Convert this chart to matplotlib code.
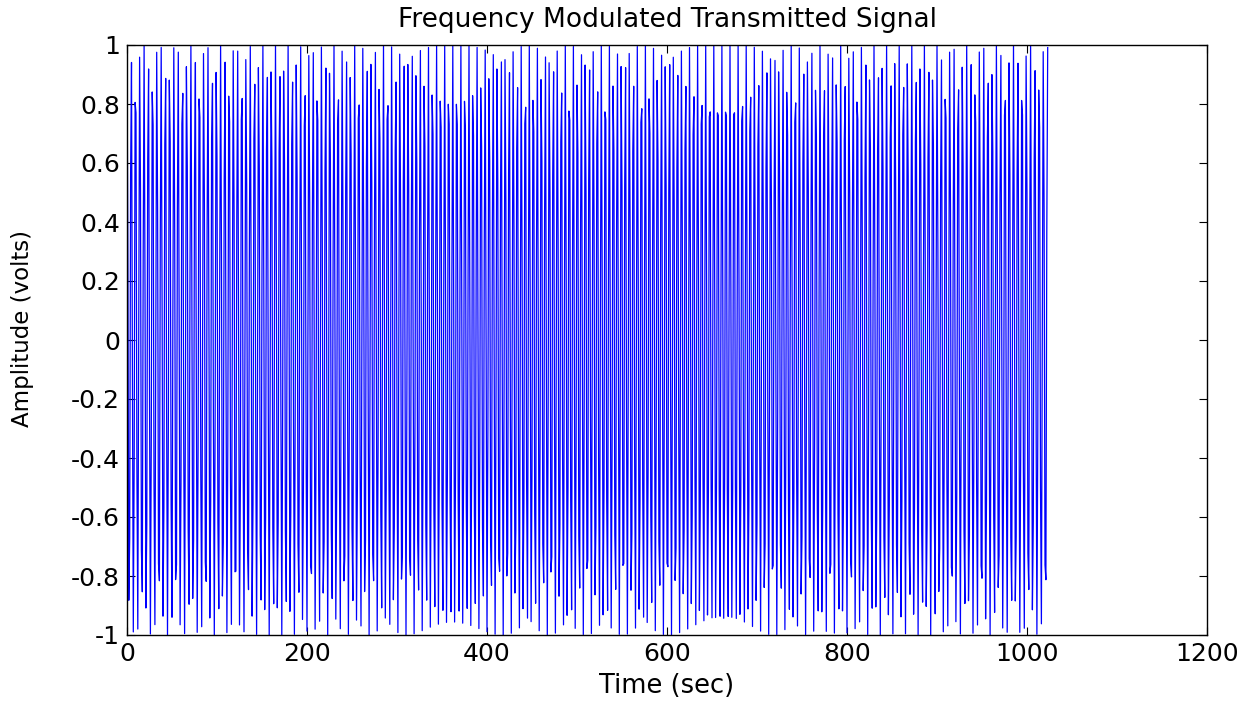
import numpy as np
import matplotlib
matplotlib.use("Agg")
import matplotlib.pyplot as plt

# Signal parameters (per-sample units)
num_samples = 1024
carrier_freq = 0.218       # cycles per sample
freq_deviation = 0.007     # peak frequency deviation, cycles per sample
message_freq = 1.0 / 1024  # message tone, cycles per sample

n = np.arange(num_samples)
mod_index = freq_deviation / message_freq
signal = np.cos(2 * np.pi * carrier_freq * n - mod_index * np.sin(2 * np.pi * message_freq * n))

x_ticks = [0, 200, 400, 600, 800, 1000, 1200]
y_ticks = [-1, -0.8, -0.6, -0.4, -0.2, 0, 0.2, 0.4, 0.6, 0.8, 1]
y_tick_labels = ["-1", "-0.8", "-0.6", "-0.4", "-0.2", "0", "0.2", "0.4", "0.6", "0.8", "1"]

plt.rcParams["font.family"] = ["DejaVu Sans"]

fig = plt.figure(figsize=(12.59, 7.02), dpi=100)
ax = fig.add_axes([127 / 1259, 1 - 635 / 702, 1080 / 1259, 590 / 702])

ax.plot(n, signal, color=(0, 0, 1), linewidth=0.9)

ax.set_xlim(0, 1200)
ax.set_ylim(-1, 1)
ax.set_xticks(x_ticks)
ax.set_xticklabels([str(v) for v in x_ticks])
ax.set_yticks(y_ticks)
ax.set_yticklabels(y_tick_labels)

ax.tick_params(direction="in", length=6, width=0.8, top=True, right=True,
               labelsize=18, pad=5)
for side in ax.spines.values():
    side.set_linewidth(1.0)

ax.set_title("Frequency Modulated Transmitted Signal", fontsize=19, pad=13)
ax.set_xlabel("Time (sec)", fontsize=18.5)
ax.set_ylabel("Amplitude (volts)", fontsize=16.5)
ax.yaxis.set_label_coords(-0.086, 0.52)
ax.xaxis.set_label_coords(0.5, -0.064)

fig.savefig("out.png", dpi=100)
